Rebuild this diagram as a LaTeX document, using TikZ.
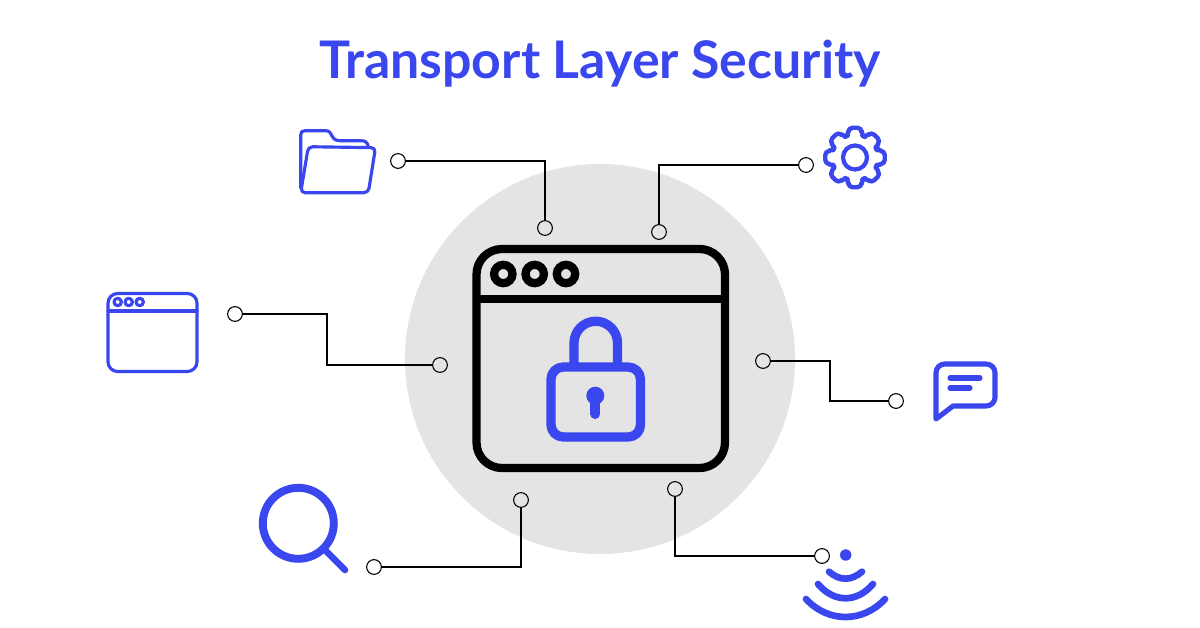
\documentclass[tikz,border=0pt]{standalone}
\usepackage{fontspec}
\setmainfont{Lato}
\usepackage{tikz}
\usetikzlibrary{calc}
\definecolor{Miblue}{HTML}{3A46EE}
\definecolor{Migray}{HTML}{E4E4E4}
\tikzset{
  pin/.style={circle,draw=black,line width=0.6pt,inner sep=0pt,minimum size=8.4pt},
  wire/.style={black,line width=1.1pt},
  icon/.style={Miblue,line width=1.8pt,line cap=round,line join=round},
  thickicon/.style={Miblue,line width=3.8pt,line cap=round,line join=round},
  lockline/.style={Miblue,line width=5.3pt,line join=round},
  heavy/.style={black,line width=4.7pt},
}
\begin{document}
\begin{tikzpicture}[x=0.02cm,y=-0.02cm]
\useasboundingbox (0,0) rectangle (1200,628);
\fill[white] (0,0) rectangle (1200,628);
\node[Miblue,font=\fontsize{29.5}{34}\selectfont\bfseries] (title) at (600,64) {Transport Layer Security};

\fill[Migray] (600,359) circle (195);

% main window
\draw[heavy,rounded corners=14.5pt] (476.5,249) rectangle (725,468);
\draw[heavy] (476.5,299) -- (725,299);
\foreach \pos in {503.3,534.7,566}
\draw[heavy] (\pos,274) circle (9.2);

% lock
\draw[lockline,rounded corners=7pt] (551,367) rectangle (640.5,437);
\draw[lockline] (574,366) -- (574,343) arc[start angle=180,end angle=360,radius=21.75] -- (617.5,366);
\fill[Miblue] (595.3,395.7) circle (9);
\draw[Miblue,line width=5.7pt,line cap=round] (595.3,398) -- (595.3,414);

% pins
\node[pin] (pinFolder) at (398,161) {};
\node[pin] (pinTop) at (545,228) {};
\node[pin] (pinGear) at (806,165) {};
\node[pin] (pinTopR) at (659,232) {};
\node[pin] (pinWindow) at (235,314) {};
\node[pin] (pinLeft) at (440,365) {};
\node[pin] (pinRight) at (763,361) {};
\node[pin] (pinChat) at (896,401) {};
\node[pin] (pinSearch) at (374,567) {};
\node[pin] (pinBottom) at (521,500) {};
\node[pin] (pinBottomR) at (675,489) {};
\node[pin] (pinWifi) at (822,556) {};
\coordinate (kneeLeft) at (327,340);
\coordinate (kneeRight) at (830,381);

\draw[wire] (pinFolder) -| (pinTop);
\draw[wire] (pinGear) -| (pinTopR);
\draw[wire] (pinWindow) -| (kneeLeft) |- (pinLeft);
\draw[wire] (pinRight) -| (kneeRight) |- (pinChat);
\draw[wire] (pinSearch) -| (pinBottom);
\draw[wire] (pinWifi) -| (pinBottomR);

% folder
\draw[icon] (300.7,188) -- (300.7,135)
  .. controls (300.7,132) and (302,130.7) .. (305,130.7) -- (325,130.7)
  .. controls (329,130.7) and (330,132) .. (332,136)
  .. controls (334,139.5) and (336,140.7) .. (340,140.7) -- (361,140.7)
  .. controls (365,140.7) and (367,142) .. (368.3,146);
\draw[icon,rounded corners=2.5pt] (300.7,192.7) -- (308.3,146.7) -- (375.5,147.7) -- (368.3,192.7) -- cycle;

% gear
\coordinate (gearMid) at (855,157.5);
\draw[icon,line width=2.4pt] (gearMid) circle (12);
\draw[icon,line width=2.5pt,rounded corners=2.5pt] ($(gearMid)+(-16:23)$)
  \foreach \ang in {0,45,...,315} {
    -- ($(gearMid)+(\ang-16:23)$) -- ($(gearMid)+(\ang-13:30.5)$) -- ($(gearMid)+(\ang+13:30.5)$) -- ($(gearMid)+(\ang+16:23)$)
  } -- cycle;

% small window
\draw[icon,rounded corners=5.5pt] (108,293.5) rectangle (197,371.5);
\draw[icon] (108,311) -- (197,311);
\foreach \pos in {117.7,128.7,139.7}
\draw[icon] (\pos,302) circle (3.7);

% chat
\draw[thickicon,line width=2.9pt] (936,419) [rounded corners=5pt] -- (936,364) -- (995,364) -- (995,406) [sharp corners] -- (953,406) -- cycle;
\draw[thickicon,line width=2.9pt] (950,378) -- (980,378);
\draw[thickicon,line width=2.9pt] (950,388) -- (970,388);

% search
\draw[thickicon,line width=4.5pt] (298.3,523.3) circle (35.5);
\draw[thickicon] (325,550) -- (345,570);

% wifi
\fill[Miblue] (845.7,555) circle (5.7);
\draw[thickicon] (829,571.7) .. controls (840,581) and (851,581) .. (862,571.7);
\draw[thickicon] (818,584) .. controls (834,603) and (857,603) .. (873,584);
\draw[thickicon] (806,599) .. controls (828,623) and (863,623) .. (885,599);
\end{tikzpicture}
\end{document}
